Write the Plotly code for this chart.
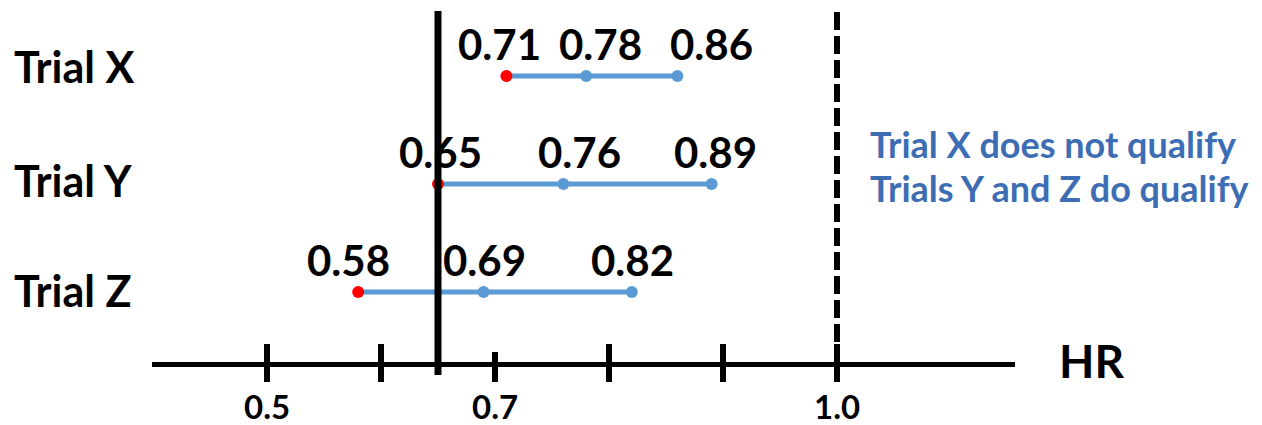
import plotly.graph_objects as go

# ---- data ----
trials = ["Trial X", "Trial Y", "Trial Z"]
lower = [0.71, 0.65, 0.58]
estimate = [0.78, 0.76, 0.69]
upper = [0.86, 0.89, 0.82]
tick_values = [0.5, 0.6, 0.7, 0.8, 0.9, 1.0]
tick_labels = ["0.5", "", "0.7", "", "", "1.0"]
threshold = 0.65
null_value = 1.0
axis_title = "HR"
notes = ["Trial X does not qualify", "Trials Y and Z do qualify"]

# ---- layout helpers (styling only) ----
W, H = 1262, 425
PX_PER_UNIT = 1140.0
X0 = 0.5 - 267 / PX_PER_UNIT
x_range = [X0, X0 + W / PX_PER_UNIT]
# horizontal nudges of the value labels (lower, estimate, upper) per trial, px
label_dx = [[-7, 14, 34], [2, 16, 4], [-10, 1, 1]]
trial_label_dy = [10, 4, 2]


def ypix(p):
    return (p - 76) / 108.0


y_range = [ypix(H), ypix(0)]

FONT = "Lato"
BLUE = "#5B9BD5"
RED = "#FF0000"
NOTE = "#3D6DB3"

fig = go.Figure()

for i, t in enumerate(trials):
    fig.add_trace(go.Scatter(
        x=[lower[i], upper[i]], y=[i, i], mode="lines",
        line=dict(color=BLUE, width=5), showlegend=False, hoverinfo="skip"))
    fig.add_trace(go.Scatter(
        x=[estimate[i], upper[i]], y=[i, i], mode="markers",
        marker=dict(color=BLUE, size=12), showlegend=False))
    fig.add_trace(go.Scatter(
        x=[lower[i]], y=[i], mode="markers",
        marker=dict(color=RED, size=12), showlegend=False))

shapes = []
axis_y = ypix(364.5)
shapes.append(dict(type="line", xref="x", yref="y", x0=X0 + 152 / PX_PER_UNIT,
                   x1=X0 + 1015 / PX_PER_UNIT, y0=axis_y, y1=axis_y,
                   line=dict(color="black", width=5)))
for v in tick_values:
    top = 352 if abs(v - 0.7) < 1e-9 else 344
    shapes.append(dict(type="line", xref="x", yref="y", x0=v, x1=v,
                       y0=ypix(top), y1=ypix(382),
                       line=dict(color="black", width=6)))
shapes.append(dict(type="line", xref="x", yref="y", x0=threshold, x1=threshold,
                   y0=ypix(11), y1=ypix(375), line=dict(color="black", width=7)))
shapes.append(dict(type="line", xref="x", yref="y", x0=null_value, x1=null_value,
                   y0=ypix(12), y1=ypix(364), layer="below",
                   line=dict(color="black", width=6, dash="18px,6px")))

ann = []
for v, lab in zip(tick_values, tick_labels):
    if lab:
        ann.append(dict(x=v, y=ypix(406), xref="x", yref="y", text=lab,
                        showarrow=False, xanchor="center", yanchor="middle",
                        font=dict(family=FONT, size=33, color="black", weight=700)))

for i, t in enumerate(trials):
    ann.append(dict(x=12 / W, y=i, xref="paper", yref="y", text=t, showarrow=False,
                    xanchor="left", yanchor="middle", yshift=trial_label_dy[i],
                    font=dict(family=FONT, size=43, color="black", weight=700)))
    for j, v in enumerate((lower[i], estimate[i], upper[i])):
        ann.append(dict(x=v, y=i, xref="x", yref="y", text=f"{v:.2f}",
                        showarrow=False, xanchor="center", yanchor="middle",
                        xshift=label_dx[i][j], yshift=32,
                        font=dict(family=FONT, size=42, color="black", weight=700)))

ann.append(dict(x=1091 / W, y=ypix(360), xref="paper", yref="y", text=axis_title,
                showarrow=False, xanchor="center", yanchor="middle",
                font=dict(family=FONT, size=46, color="black", weight=700)))

for k, n in enumerate(notes):
    ann.append(dict(x=868 / W, y=ypix([144, 188][k]), xref="paper", yref="y",
                    text=n, showarrow=False, xanchor="left", yanchor="middle",
                    font=dict(family=FONT, size=36, color=NOTE, weight=700)))

fig.update_layout(
    width=W, height=H, margin=dict(l=0, r=0, t=0, b=0),
    paper_bgcolor="white", plot_bgcolor="white",
    xaxis=dict(range=x_range, visible=False, fixedrange=True),
    yaxis=dict(range=y_range, visible=False, fixedrange=True),
    shapes=shapes, annotations=ann, showlegend=False,
)

fig.write_html("out.html", config={"displayModeBar": False},
               post_script="document.body.style.margin='0';document.body.style.overflow='hidden';")
